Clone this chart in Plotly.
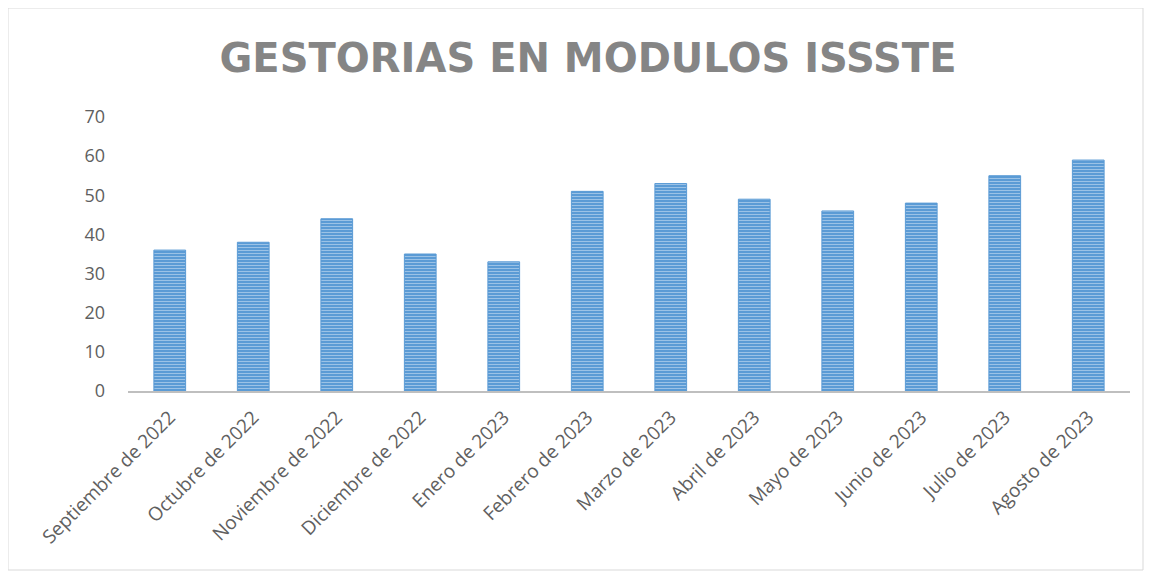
import plotly.graph_objects as go

categories = ["Septiembre de 2022", "Octubre de 2022", "Noviembre de 2022", "Diciembre de 2022",
              "Enero de 2023", "Febrero de 2023", "Marzo de 2023", "Abril de 2023",
              "Mayo de 2023", "Junio de 2023", "Julio de 2023", "Agosto de 2023"]
values = [36, 38, 44, 35, 33, 51, 53, 49, 46, 48, 55, 59]
y_ticks = [0, 10, 20, 30, 40, 50, 60, 70]
title_text = "GESTORIAS EN MODULOS ISSSTE"

W, H = 1153, 579
L, T = 120, 109
PR, PB = 1122, 383  # plot right / bottom edges (px)
R, B = W - PR, H - PB
pw, ph = W - L - R, H - T - B

fig = go.Figure(go.Bar(
    x=categories, y=values,
    marker=dict(
        color="#5B9BD5",
        line=dict(color="#5B9BD5", width=1),
        pattern=dict(shape="-", fgcolor="#DCEAF7", bgcolor="#5B9BD5", size=3, solidity=0.35),
    ),
))

fig.update_layout(
    width=W, height=H,
    margin=dict(l=L, r=R, t=T, b=B),
    plot_bgcolor="white", paper_bgcolor="white",
    bargap=0.62,
    showlegend=False,
    title=dict(text=title_text, x=580 / W, xanchor="center", y=1 - 50 / H, yanchor="middle",
               font=dict(family="DejaVu Sans", size=40, color="#858585", weight="bold")),
    font=dict(family="Open Sans", color="#595959"),
)
fig.update_xaxes(tickangle=-45, tickfont=dict(size=19, color="#606060"), showline=True,
                 linecolor="#BFBFBF", linewidth=1.5, ticks="", showgrid=False,
                 ticklabelstandoff=6, automargin=False)
fig.update_yaxes(range=[0, 70], tickvals=y_ticks, tickfont=dict(size=18, color="#606060"),
                 showgrid=False, zeroline=False, showline=False, ticks="", ticklabelstandoff=22,
                 automargin=False)

fig.add_shape(type="rect", xref="paper", yref="paper",
              x0=(0 - L) / pw, x1=(1135 - L) / pw,
              y0=(H - B - 562) / ph, y1=(H - B - 0) / ph,
              line=dict(color="#D9D9D9", width=1), layer="below")

fig.write_html("out.html")
